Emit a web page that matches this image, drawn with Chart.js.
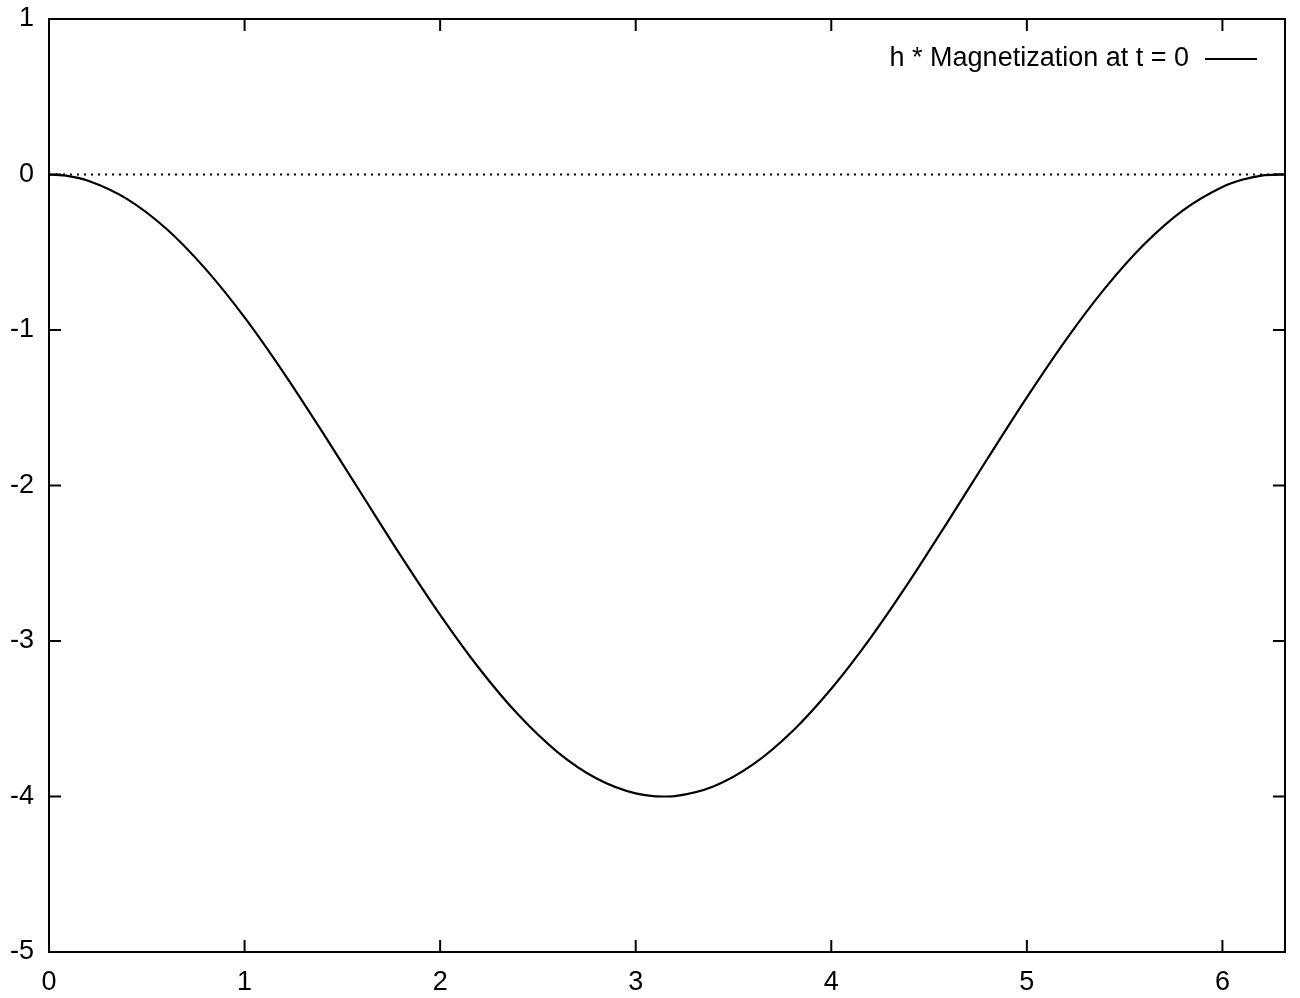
<!DOCTYPE html>
<html>
<head>
<meta charset="utf-8">
<script src="https://cdn.jsdelivr.net/npm/chart.js@4/dist/chart.umd.min.js"></script>
<style>
  html, body { margin: 0; padding: 0; background: #fff; }
  #wrap { width: 1300px; height: 998px; }
</style>
</head>
<body>
<div id="wrap"><canvas id="c" width="1300" height="998"></canvas></div>
<script>
// ---- data ----
const xValues = [0, 0.1, 0.2, 0.4, 0.6, 0.8, 1.0, 1.2, 1.4, 1.6, 1.8, 2.0, 2.2, 2.4, 2.6, 2.8, 3.0, 3.14,
                 3.2, 3.4, 3.6, 3.8, 4.0, 4.2, 4.4, 4.6, 4.8, 5.0, 5.2, 5.4, 5.6, 5.8, 6.0, 6.1, 6.2, 6.32];
const magnetization = [0, -0.01, -0.04, -0.158, -0.349, -0.607, -0.919, -1.275, -1.66, -2.058, -2.454, -2.832,
                 -3.177, -3.475, -3.714, -3.884, -3.98, -4.0, -3.997, -3.934, -3.794, -3.582, -3.307,
                 -2.981, -2.615, -2.224, -1.825, -1.433, -1.063, -0.731, -0.449, -0.229, -0.08, -0.034, -0.007, 0];
const zeroLineX = [0, 6.32];
const zeroLineY = [0, 0];
const xTicks = [0, 1, 2, 3, 4, 5, 6];
const yTicks = [1, 0, -1, -2, -3, -4, -5];
const legendLabel = "h * Magnetization at t = 0";

const FONT = '"Liberation Sans", Arial, Helvetica, sans-serif';

const framePlugin = {
  id: 'frame',
  afterDraw(chart) {
    const { ctx, chartArea: a, scales } = chart;
    ctx.save();
    ctx.strokeStyle = '#000';
    ctx.lineWidth = 2;
    ctx.strokeRect(a.left, a.top, a.right - a.left, a.bottom - a.top);
    const tl = 12;
    ctx.beginPath();
    xTicks.forEach(v => {
      const px = scales.x.getPixelForValue(v);
      ctx.moveTo(px, a.bottom); ctx.lineTo(px, a.bottom - tl);
      ctx.moveTo(px, a.top); ctx.lineTo(px, a.top + tl);
    });
    yTicks.forEach(v => {
      const py = scales.y.getPixelForValue(v);
      ctx.moveTo(a.left, py); ctx.lineTo(a.left + tl, py);
      ctx.moveTo(a.right, py); ctx.lineTo(a.right - tl, py);
    });
    ctx.stroke();
    // legend (text then sample line)
    ctx.font = '27px ' + FONT;
    ctx.fillStyle = '#000';
    ctx.textAlign = 'right';
    ctx.textBaseline = 'middle';
    const ly = 59;
    ctx.fillText(legendLabel, 1189, ly);
    ctx.beginPath();
    ctx.lineWidth = 2;
    ctx.moveTo(1205, ly); ctx.lineTo(1257, ly);
    ctx.stroke();
    ctx.restore();
  }
};

new Chart(document.getElementById('c'), {
  type: 'line',
  data: {
    datasets: [
      {
        label: legendLabel,
        data: xValues.map((x, i) => ({ x, y: magnetization[i] })),
        borderColor: '#000',
        borderWidth: 2.2,
        pointRadius: 0,
        cubicInterpolationMode: 'monotone',
        fill: false
      },
      {
        label: 'zero',
        data: zeroLineX.map((x, i) => ({ x, y: zeroLineY[i] })),
        borderColor: '#000',
        borderWidth: 1.8,
        borderDash: [2, 5],
        pointRadius: 0,
        fill: false
      }
    ]
  },
  options: {
    responsive: false,
    animation: false,
    devicePixelRatio: 1,
    layout: { padding: { top: 19, right: 15, left: 0, bottom: 0 } },
    plugins: { legend: { display: false }, tooltip: { enabled: false } },
    scales: {
      x: {
        type: 'linear',
        min: 0, max: 6.32,
        grid: { display: false, drawTicks: false },
        border: { display: false },
        afterBuildTicks(scale) { scale.ticks = xTicks.map(v => ({ value: v })); },
        afterFit(scale) { scale.height = 46; scale.paddingLeft = 0; scale.paddingRight = 0; },
        ticks: { stepSize: 1, color: '#000', padding: 14, maxRotation: 0,
                 font: { family: FONT, size: 27 }, callback: v => String(v) }
      },
      y: {
        type: 'linear',
        min: -5, max: 1,
        grid: { display: false, drawTicks: false },
        border: { display: false },
        afterBuildTicks(scale) { scale.ticks = yTicks.slice().reverse().map(v => ({ value: v })); },
        afterFit(scale) { scale.width = 49; scale.paddingTop = 0; scale.paddingBottom = 0; },
        ticks: { stepSize: 1, color: '#000', padding: 15,
                 font: { family: FONT, size: 27 }, callback: v => String(v) }
      }
    }
  },
  plugins: [framePlugin]
});
</script>
</body>
</html>
